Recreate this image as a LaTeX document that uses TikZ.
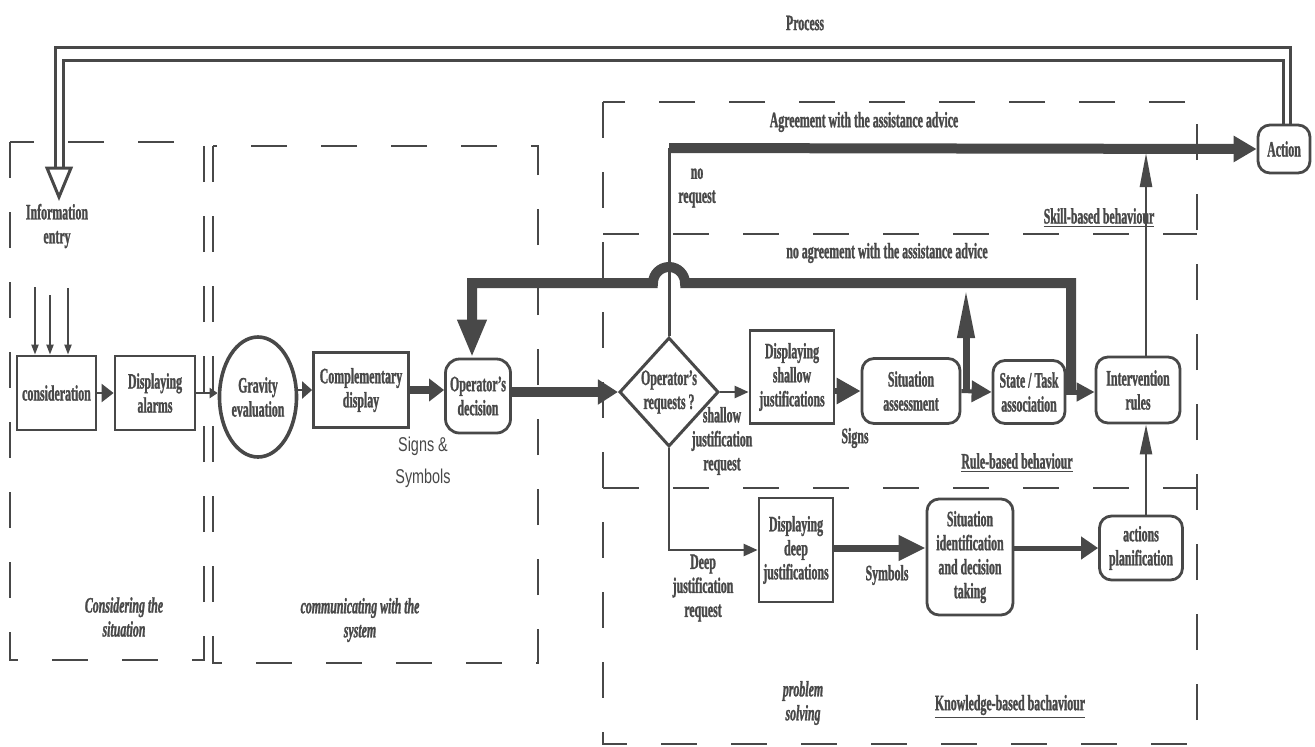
\documentclass[tikz,border=0pt]{standalone}
\usepackage{fontspec}
\setmainfont{Liberation Serif}[FakeStretch=0.54,FakeBold=1.2]
\newfontfamily\sansf{Liberation Sans}[FakeStretch=0.72]
\usetikzlibrary{arrows.meta,shapes.geometric,calc}
\definecolor{ink}{RGB}{72,72,72}
\newcommand\nf{\fontsize{11}{12}\selectfont\bfseries}
\begin{document}
\begin{tikzpicture}[x=0.5pt,y=-0.5pt,color=ink,
  box/.style={draw,line width=1.4pt,inner sep=0pt,align=center,font=\nf},
  rbox/.style={box,rounded corners=6pt},
  lbl/.style={inner sep=0pt,align=center,font=\nf},
  zone/.style={line width=1.35pt,dash pattern=on 18pt off 17pt},
  ln/.style={line width=1.25pt},
  sarr/.style={ln,-{Triangle[length=6pt,width=8pt]}},
  narr/.style={ln,-{Triangle[length=17pt,width=6pt]}},
  inarr/.style={line width=1pt,-{Triangle[length=5pt,width=3.5pt]}}
]
\useasboundingbox (0,0) rectangle (1315,746);

% zones
\draw[zone] (10,142) rectangle (204,660);
\draw[zone] (213,146) rectangle (538,663);
\draw[zone] (603,102) rectangle (1197,744);
\draw[zone] (603,234) -- (1197,234);
\draw[zone] (603,488) -- (1197,488);

% nodes
\node[box,minimum width=39.5pt,minimum height=37pt] (cons) at (56.5,393) {consideration};
\node[box,minimum width=40pt,minimum height=37pt] (alarms) at (155,393) {Displaying\\alarms};
\node[box,ellipse,line width=1.8pt,minimum width=38.5pt,minimum height=60pt] (grav) at (258,397) {Gravity\\evaluation};
\node[box,minimum width=47.5pt,minimum height=37.5pt] (comp) at (361,390) {Complementary\\display};
\node[rbox,rounded corners=7pt,minimum width=32.5pt,minimum height=37pt] (opdec) at (478,396) {Operator's\\decision};
\node[box,diamond,line width=1.5pt,minimum width=47pt,minimum height=54.5pt] (diam) at (669,392) {Operator's\\requests ?};
\node[box,minimum width=42pt,minimum height=46.5pt] (shallow) at (792,377) {Displaying\\shallow\\justifications};
\node[rbox,minimum width=49pt,minimum height=32.5pt] (sitass) at (911,391) {Situation\\assessment};
\node[rbox,minimum width=36pt,minimum height=31.5pt] (state) at (1029,392) {State / Task\\association};
\node[rbox,minimum width=42pt,minimum height=33pt] (interv) at (1138,390) {Intervention\\rules};
\node[rbox,minimum width=26pt,minimum height=24pt] (action) at (1284,149) {Action};
\node[box,minimum width=37pt,minimum height=52pt] (deep) at (796,550) {Displaying\\deep\\justifications};
\node[rbox,minimum width=43pt,minimum height=58pt] (sitid) at (970,557) {Situation\\identification\\and decision\\taking};
\node[rbox,minimum width=41.5pt,minimum height=32pt] (actplan) at (1141,548) {actions\\planification};

% process feedback (double line)
\coordinate (pO) at ($(action.north)+(6,0)$);
\coordinate (pI) at ($(action.north)+(-1,0)$);
\coordinate (cO) at (55,47);
\coordinate (cI) at (63,60);
\coordinate (eO) at (55,168);
\coordinate (eI) at (63,168);
\coordinate (ha) at (47,168);
\coordinate (hb) at (71,168);
\coordinate (ht) at (59,197);
\draw[line width=1.5pt] (pO) |- (cO) -- (eO);
\draw[line width=1.5pt] (pI) |- (cI) -- (eI);
\draw[line width=1.5pt,fill=white] (ha) -- (hb) -- (ht) -- cycle;
\node[lbl] (proc) at (805,23) {Process};
\node[lbl] (info) at (57,226) {Information\\entry};

% inputs
\coordinate (i1) at (35,287);
\coordinate (i2) at (50,295);
\coordinate (i3) at (68,288);
\draw[inarr] (i1) -- (i1 |- cons.north);
\draw[inarr] (i2) -- (i2 |- cons.north);
\draw[inarr] (i3) -- (i3 |- cons.north);

% main chain
\draw[ln,-{Triangle[length=6pt,width=9pt]}] (cons.east) -- (alarms.west);
\draw[ln,-{Triangle[length=4pt,width=5pt]}] (alarms.east) -- (grav.west |- alarms.east);
\draw[ln,-{Triangle[length=5pt,width=8.5pt]}] (grav.east |- comp.east) -- (comp.west);
\draw[line width=4pt,-{Triangle[length=7.5pt,width=11pt]}] (comp.east) -- (comp.east -| opdec.west);
\draw[line width=5pt,-{Triangle[length=10pt,width=12pt]}] (opdec.east |- diam.west) -- (diam.west);

% no agreement feedback
\coordinate (fa) at (1071,390);
\coordinate (fb) at (1071,283);
\coordinate (hr) at (685,283);
\coordinate (fc) at (472,283);
\draw[line width=5pt,-{Triangle[length=19pt,width=13.5pt]}] (fa) -- (fb) -- (hr) arc[start angle=0,end angle=-180,radius=16] -- (fc) -- (fc |- opdec.north);

% rule-based chain
\draw[ln,-{Triangle[length=7pt,width=6pt]}] (diam.east) -- (diam.east -| shallow.west);
\draw[line width=3pt,-{Triangle[length=12pt,width=12.5pt]}] (sitass.west -| shallow.east) -- (sitass.west);
\draw[line width=2pt,-{Triangle[length=10pt,width=10.5pt]}] (sitass.east) -- (state.west);
\draw[line width=2.5pt,-{Triangle[length=9pt,width=9pt]}] (state.east) -- (state.east -| interv.west);
\coordinate (va) at (966,391);
\coordinate (vb) at (966,288);
\draw[line width=3.5pt,-{Triangle[length=25pt,width=8pt]}] (va) -- (vb);

% no request / agreement
\coordinate (nr) at (669,148);
\draw[line width=5pt,-{Triangle[length=11.5pt,width=12.5pt]}] (nr) -- (action.west);
\draw[line width=1.5pt] (diam.north) -- (nr);
\coordinate (ia) at (1146,153);
\draw[narr] (interv.north -| ia) -- (ia);

% knowledge-based chain
\draw[ln,-{Triangle[length=7pt,width=6pt]}] (diam.south) |- (deep.west);
\draw[line width=3.5pt,-{Triangle[length=13.5pt,width=12pt]}] (deep.east |- actplan.west) -- (sitid.west |- actplan.west);
\draw[line width=2.5pt,-{Triangle[length=8.5pt,width=11pt]}] (sitid.east |- actplan.west) -- (actplan.west);
\draw[ln,-{Triangle[length=15pt,width=6pt]}] (actplan.north -| ia) -- (interv.south -| ia);

% labels
\node[lbl] (agr) at (864,122) {Agreement with the assistance advice};
\node[lbl] (nagr) at (887,253) {no agreement with the assistance advice};
\node[lbl] (noreq) at (697,188) {no\\request};
\node[lbl] (skill) at (1099,218) {\underline{Skill-based behaviour}};
\node[lbl] (rule) at (1017,463) {\underline{Rule-based behaviour}};
\node[lbl] (know) at (1010,707) {\underline{Knowledge-based bachaviour}};
\node[lbl] (signs) at (855,438) {Signs};
\node[lbl] (symb) at (887,575) {Symbols};
\node[lbl,font=\sansf\fontsize{10}{16}\selectfont] (ss) at (423,462) {Signs \&\\Symbols};
\node[lbl] (sjr) at (722,441) {shallow\\justification\\request};
\node[lbl] (djr) at (703,588) {Deep\\justification\\request};
\node[lbl,font=\nf\itshape] (ps) at (803,703) {problem\\solving};
\node[lbl,font=\nf\itshape] (cts) at (124,617) {Considering the\\situation};
\node[lbl,font=\nf\itshape] (cws) at (360,620) {communicating with the\\system};
\end{tikzpicture}
\end{document}
